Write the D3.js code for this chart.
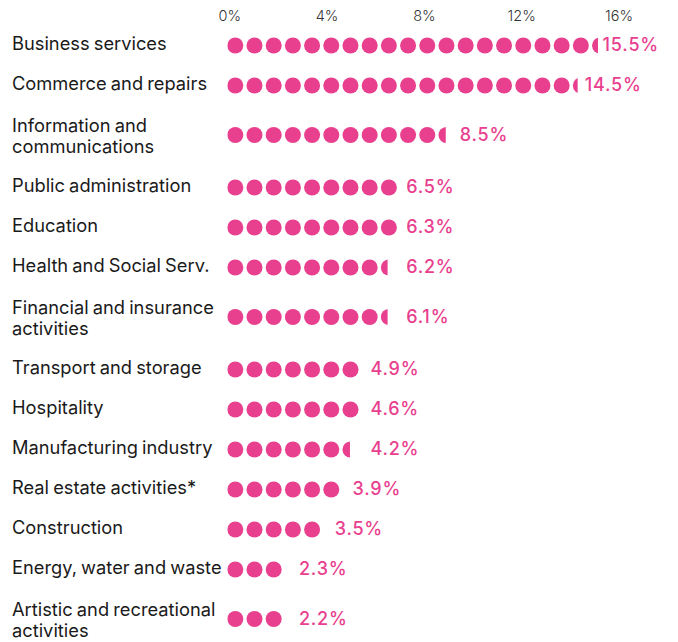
<!DOCTYPE html>
<html>
<head>
<meta charset="utf-8">
<script src="https://cdn.jsdelivr.net/npm/d3@7"></script>
<style>
  html, body { margin: 0; padding: 0; background: #fff; }
  svg { display: block; }
</style>
</head>
<body>
<svg id="chart" width="678" height="642"></svg>
<script>
// ---- data ----
const categories = [
  "Business services",
  "Commerce and repairs",
  "Information and\ncommunications",
  "Public administration",
  "Education",
  "Health and Social Serv.",
  "Financial and insurance\nactivities",
  "Transport and storage",
  "Hospitality",
  "Manufacturing industry",
  "Real estate activities*",
  "Construction",
  "Energy, water and waste",
  "Artistic and recreational\nactivities"
];
const shares = [15.5, 14.5, 8.5, 6.5, 6.3, 6.2, 6.1, 4.9, 4.6, 4.2, 3.9, 3.5, 2.3, 2.2];
// number of dots drawn per row (last dot may be partial)
const dotCounts = [19.31, 18.25, 11.38, 9, 9, 8.35, 8.35, 7, 7, 6.39, 6, 5, 3, 3];
const tickValues = [0, 4, 8, 12, 16];

// ---- layout ----
const color = "#E8408E";
const svg = d3.select("#chart");
const x = d3.scaleLinear().domain([0, 16]).range([229.2, 618.5]);
const dotUnit = 0.789;              // share represented by one dot
const pitch = x(dotUnit) - x(0);
const r = 8;
const dotStart = x(0) - 1.9;        // left edge of the first dot
const labelPitch = 17.86, labelOffset = 18.1;

const rowH = 40, padAbove = 9.5, padBelow = 12.5, firstCenter = 45.5;
const lines = categories.map(c => c.split("\n"));
const centers = [];
lines.forEach((l, i) => {
  if (i === 0) { centers.push(firstCenter); return; }
  const prevBelow = lines[i - 1].length > 1 ? padBelow : 0;
  const above = l.length > 1 ? padAbove : 0;
  centers.push(centers[i - 1] + rowH + prevBelow + above);
});

// axis
const axis = d3.axisTop(x).tickValues(tickValues).tickFormat(d => d + "%").tickSize(0).tickPadding(0);
const ax = svg.append("g").attr("transform", "translate(0,21)").call(axis);
ax.select(".domain").remove();
ax.selectAll("text")
  .attr("font-family", "Inter, sans-serif")
  .attr("font-size", 14.5)
  .attr("font-weight", 300)
  .attr("fill", "#333")
  .attr("dy", 0);

const defs = svg.append("defs");
const rows = svg.append("g").selectAll("g").data(categories).join("g");

rows.each(function(c, i) {
  const g = d3.select(this);
  const cy = centers[i];
  const n = dotCounts[i];
  const full = Math.ceil(n - 1e-9);
  const clipW = n * pitch;
  defs.append("clipPath").attr("id", "clip" + i)
    .append("rect").attr("x", dotStart).attr("y", cy - r - 1)
    .attr("width", clipW).attr("height", 2 * r + 2);
  g.append("g").attr("clip-path", `url(#clip${i})`)
    .selectAll("circle").data(d3.range(full)).join("circle")
    .attr("cx", k => dotStart + r + k * pitch)
    .attr("cy", cy)
    .attr("r", r)
    .attr("fill", color);

  const ls = lines[i];
  const t = g.append("text")
    .attr("font-family", "Inter, sans-serif")
    .attr("font-size", 18.3)
    .attr("word-spacing", -1)
    .attr("fill", "#1a1a1a");
  ls.forEach((s, j) => {
    const base = ls.length > 1 ? cy - 2.8 + j * 20.3 : cy + 4.4;
    t.append("tspan").attr("x", 12).attr("y", base).text(s);
  });

  g.append("text")
    .attr("x", dotStart + labelOffset + full * labelPitch)
    .attr("y", cy + 5.5)
    .attr("font-family", "Inter, sans-serif")
    .attr("font-size", 18)
    .attr("font-weight", 500)
    .attr("letter-spacing", 0.8)
    .attr("fill", color)
    .text(shares[i] + "%");
});
</script>
</body>
</html>
